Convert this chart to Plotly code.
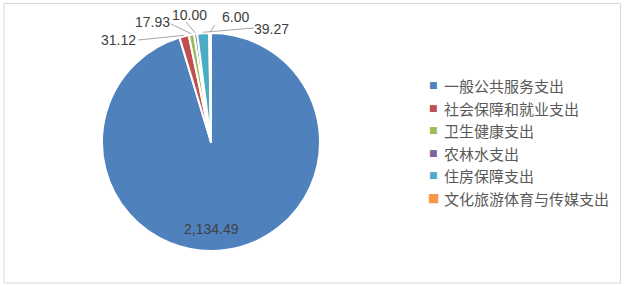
import math
import plotly.graph_objects as go

categories = ["一般公共服务支出", "社会保障和就业支出", "卫生健康支出", "农林水支出", "住房保障支出", "文化旅游体育与传媒支出"]
values = [2134.49, 31.12, 17.93, 10.00, 39.27, 6.00]
value_labels = ["2,134.49", "31.12", "17.93", "10.00", "39.27", "6.00"]
colors = ["#4F81BD", "#C0504D", "#9BBB59", "#8064A2", "#4BACC6", "#F79646"]

W, H = 624, 286
CX, CY, R = 211, 142, 109

# label anchor positions (pixels) and where the leader line leaves the label
label_pos = [(211, 229), (118, 40), (152, 22), (190, 15), (271, 29), (235, 17)]
leader_from = [None, (138, 40), (171, 24), (186, 22), (254, 28), (215, 25)]

def px(x):
    return x / W

def py(y):
    return 1 - y / H

fig = go.Figure()
fig.add_trace(go.Pie(
    labels=categories, values=values, sort=False, direction="clockwise", rotation=0,
    marker=dict(colors=colors, line=dict(color="white", width=2)),
    textinfo="none", showlegend=False,
    domain=dict(x=[px(CX - R), px(CX + R)], y=[py(CY + R), py(CY - R)]),
))

total = sum(values)
cum = 0.0
shapes = [dict(type="rect", xref="paper", yref="paper", x0=px(4), x1=px(620.5), y0=py(283), y1=py(3.5),
               line=dict(color="#D9D9D9", width=1))]
annotations = []
for i, v in enumerate(values):
    mid = (cum + v / 2) / total * 2 * math.pi
    cum += v
    annotations.append(dict(x=px(label_pos[i][0]), y=py(label_pos[i][1]), xref="paper", yref="paper",
                            text=value_labels[i], showarrow=False, xanchor="center", yanchor="middle",
                            font=dict(size=14, color="#404040", family="Liberation Sans, Arial")))
    if leader_from[i] is not None:
        ex = CX + (R + 1) * math.sin(mid)
        ey = CY - (R + 1) * math.cos(mid)
        lx, ly = leader_from[i]
        shapes.append(dict(type="line", xref="paper", yref="paper", x0=px(lx), y0=py(ly), x1=px(ex), y1=py(ey),
                           line=dict(color="#A6A6A6", width=1)))

row_y = [85, 108, 130, 153, 175, 198]
for i, name in enumerate(categories):
    msize = 12 if i == len(categories) - 1 else 9
    annotations.append(dict(x=px(433), y=py(row_y[i]), xref="paper", yref="paper", text="■", showarrow=False,
                            xanchor="center", yanchor="middle",
                            font=dict(size=msize, color=colors[i], family="DejaVu Sans")))
    annotations.append(dict(x=px(442), y=py(row_y[i]), xref="paper", yref="paper", text=name, showarrow=False,
                            xanchor="left", yanchor="middle",
                            font=dict(size=15, color="#595959", family="Noto Sans CJK SC")))

fig.update_layout(width=W, height=H, margin=dict(l=0, r=0, t=0, b=0), paper_bgcolor="white",
                  plot_bgcolor="white", shapes=shapes, annotations=annotations)
fig.write_html("out.html")
